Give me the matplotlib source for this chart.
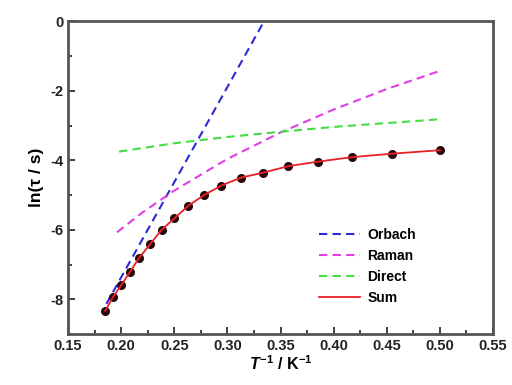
import matplotlib
matplotlib.use('Agg')
import matplotlib.pyplot as plt
from matplotlib.ticker import MultipleLocator

plt.rcParams['font.family'] = ['Liberation Sans', 'DejaVu Sans']
plt.rcParams['font.weight'] = 'bold'
plt.rcParams['axes.labelweight'] = 'bold'
plt.rcParams['mathtext.fontset'] = 'custom'
plt.rcParams['mathtext.it'] = 'Liberation Sans:italic:bold'
plt.rcParams['mathtext.rm'] = 'Liberation Sans:bold'
plt.rcParams['mathtext.bf'] = 'Liberation Sans:bold'

# measured points (1/T, ln tau)
inv_t = [0.185, 0.192, 0.200, 0.208, 0.217, 0.227, 0.238, 0.250, 0.263,
         0.278, 0.294, 0.3125, 0.333, 0.357, 0.385, 0.417, 0.455, 0.500]
ln_tau = [-8.33, -7.94, -7.59, -7.22, -6.80, -6.42, -6.00, -5.67, -5.31,
          -5.00, -4.73, -4.50, -4.36, -4.17, -4.04, -3.91, -3.81, -3.71]

# fit components
orbach_x = [0.186, 0.3345]
orbach_y = [-8.13, 0.0]
raman_x = [0.196, 0.22, 0.25, 0.30, 0.35, 0.40, 0.45, 0.50]
raman_y = [-6.07, -5.50, -4.87, -3.96, -3.20, -2.54, -1.95, -1.43]
direct_x = [0.198, 0.25, 0.30, 0.35, 0.40, 0.45, 0.50]
direct_y = [-3.75, -3.51, -3.33, -3.18, -3.04, -2.93, -2.82]

fig = plt.figure(figsize=(5.12, 3.85), dpi=100)
ax = fig.add_axes([0.133, 0.132, 0.830, 0.813])

ax.plot(orbach_x, orbach_y, color='#2b2bd6', ls=(0, (4, 2.5)), lw=1.5, label='Orbach')
ax.plot(raman_x, raman_y, color='#e040e0', ls=(0, (4, 2.5)), lw=1.5, label='Raman')
ax.plot(direct_x, direct_y, color='#44dd44', ls=(0, (4, 2.5)), lw=1.5, label='Direct')
ax.plot(inv_t, ln_tau, 'o', color='#2a0808', ms=5.5, zorder=3)
ax.plot(inv_t, ln_tau, color='#e8202a', lw=1.3, label='Sum', zorder=4)

ax.set_xlim(0.15, 0.55)
ax.set_ylim(-9, 0)
ax.xaxis.set_major_locator(MultipleLocator(0.05))
ax.xaxis.set_minor_locator(MultipleLocator(0.025))
ax.yaxis.set_major_locator(MultipleLocator(2))
ax.yaxis.set_minor_locator(MultipleLocator(1))
ax.tick_params(which='both', direction='in', width=1.3, colors='#333333',
               labelcolor='#222222', labelsize=10.5)
ax.tick_params(which='major', length=5)
ax.tick_params(which='minor', length=3)
ax.set_xticklabels(['%.2f' % v for v in ax.get_xticks()])
ax.set_yticks([0, -2, -4, -6, -8])
ax.set_yticklabels(['0', '-2', '-4', '-6', '-8'])
for s in ax.spines.values():
    s.set_linewidth(2)
    s.set_color('#555555')

ax.set_xlabel(r'$\mathit{T}^{-1}$ / K$^{-1}$', fontsize=11.5, labelpad=1)
ax.set_ylabel('ln(τ / s)', fontsize=12.5, labelpad=4)

ax.legend(loc='upper left', bbox_to_anchor=(0.56, 0.38), frameon=False,
          fontsize=10, handlelength=3.0, handletextpad=0.5, labelspacing=0.5)

fig.savefig('out.png', dpi=100)
